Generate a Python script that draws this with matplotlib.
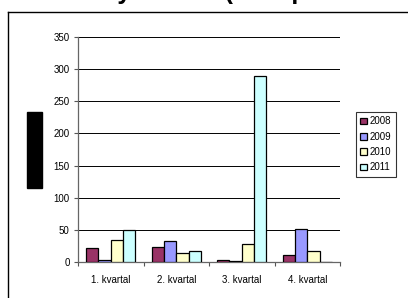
import matplotlib
matplotlib.use("Agg")
import matplotlib.pyplot as plt
from matplotlib.lines import Line2D
from matplotlib.patches import Rectangle
import numpy as np

categories = ["1. kvartal", "2. kvartal", "3. kvartal", "4. kvartal"]
years = ["2008", "2009", "2010", "2011"]
v2008 = [22, 24, 4, 11]
v2009 = [4, 33, 2, 51]
v2010 = [35, 15, 29, 17]
v2011 = [50, 17, 289, 0]
series = [v2008, v2009, v2010, v2011]
colors = ["#993366", "#9999FF", "#FFFFCC", "#CCFFFF"]
yticks = [0, 50, 100, 150, 200, 250, 300, 350]
title = "Antall nye saker (sum per kvartal, år)"

plt.rcParams['font.family'] = ['Liberation Sans', 'DejaVu Sans']
plt.rcParams['savefig.bbox'] = None
fig = plt.figure(figsize=(4.08, 2.98), dpi=100)
W, H = 408, 298
ax = fig.add_axes([78 / W, 1 - 262.3 / H, (340 - 78) / W, (262.3 - 36.7) / H])

x = np.arange(len(categories))
w = 0.1875
for i, (vals, c, lab) in enumerate(zip(series, colors, years)):
    ax.bar(x + (i - 1.5) * w, vals, width=w, color=c, edgecolor="black",
           linewidth=0.9, label=lab, zorder=3)

ax.set_xlim(-0.5, 3.5)
ax.set_ylim(0, 350)
ax.set_yticks(yticks)
ax.set_yticklabels([str(t) for t in yticks], fontsize=7)
ax.yaxis.grid(True, color="black", linewidth=0.7, zorder=0)
ax.set_xticks(np.arange(-0.5, 4.0, 1.0))
ax.set_xticklabels([])
ax.set_xticks(x, minor=True)
ax.set_xticklabels(categories, minor=True, fontsize=7)
ax.tick_params(axis="x", which="minor", length=0, pad=9)
ax.tick_params(axis="x", which="major", length=3, color="#555555", direction="out")
ax.tick_params(axis="y", length=3, color="#555555", direction="out", pad=3)
for s in ["top", "right"]:
    ax.spines[s].set_visible(False)
for s in ["left", "bottom"]:
    ax.spines[s].set_color("#666666")
    ax.spines[s].set_linewidth(0.9)

leg = fig.legend(loc="upper left", bbox_to_anchor=(355.7 / W, 1 - 112 / H),
                 fontsize=7, frameon=True, fancybox=False, handlelength=0.7,
                 handleheight=0.7, handletextpad=0.3, labelspacing=0.55,
                 borderpad=0.45, borderaxespad=0)
leg.get_frame().set_edgecolor("black")
leg.get_frame().set_linewidth(0.8)

# outer chart frame (cropped)
fig.add_artist(Line2D([8 / W, 8 / W], [0, 1 - 12 / H], color="black", linewidth=1.0))
fig.add_artist(Line2D([8 / W, 1], [1 - 12 / H, 1 - 12 / H], color="black", linewidth=1.0))
# redaction box over y-axis label
fig.add_artist(Rectangle((27 / W, 1 - 187.7 / H), 15 / W, 75.4 / H,
                         transform=fig.transFigure, color="black"))
# title, mostly above the top edge as in the reference
fig.text(245 / W, 1 + 0.5 / H, title,
         ha="center", va="baseline", fontsize=18, fontweight="bold")

fig.savefig("out.png", dpi=100, bbox_inches=None)
